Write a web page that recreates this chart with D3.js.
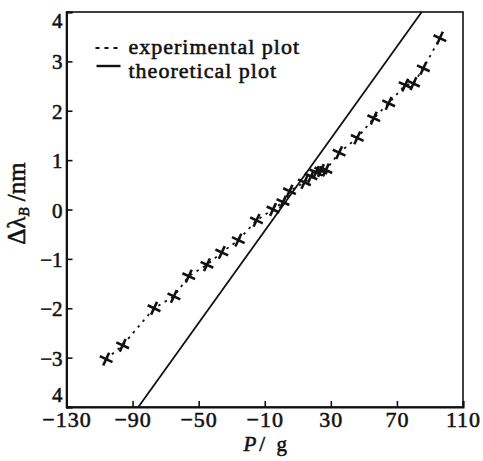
<!DOCTYPE html>
<html>
<head>
<meta charset="utf-8">
<script src="https://cdn.jsdelivr.net/npm/d3@7"></script>
<style>
  body { margin: 0; background: #fff; }
  text { font-family: "Liberation Serif", "DejaVu Serif", serif; fill: #111; stroke: #111; stroke-width: 0.55px; }
</style>
</head>
<body>
<div id="chart"></div>
<script>
// experimental points (P in g, delta lambda in nm)
var expP = [-106, -96, -77, -65, -56, -45, -36, -26, -15, -5, 1, 5, 14, 18, 21, 24, 27, 35, 46, 56, 65, 75, 80, 86, 96];
var expL = [-3.03, -2.75, -2.0, -1.76, -1.35, -1.12, -0.87, -0.62, -0.22, 0.0, 0.15, 0.37, 0.55, 0.67, 0.75, 0.79, 0.8, 1.15, 1.45, 1.85, 2.15, 2.52, 2.55, 2.86, 3.47];
// theoretical line end points
var theoP = [-86.5, 85];
var theoL = [-4, 4];
var xTicks = [-130, -90, -50, -10, 30, 70, 110];
var yTicks = [-4, -3, -2, -1, 0, 1, 2, 3, 4];
var legendLabels = ["experimental plot", "theoretical plot"];

(function (d3) {
    "use strict";

    var margin = { top: 12, right: 20, bottom: 54, left: 66.5 };
    var width = 483 - margin.left - margin.right;
    var height = 461 - margin.top - margin.bottom;

    var svg = d3.select("#chart").append("svg")
        .attr("width", 483)
        .attr("height", 461);

    var g = svg.append("g")
        .attr("transform", "translate(" + margin.left + "," + margin.top + ")");

    var xScale = d3.scaleLinear().domain([-130, 110]).range([0, width]);
    var yScale = d3.scaleLinear().domain([-4, 4]).range([height, 0]);

    function fmt(v) {
        return v < 0 ? "\u2212" + Math.abs(v) : "" + v;
    }

    // frame
    g.append("rect")
        .attr("width", width).attr("height", height)
        .attr("fill", "none").attr("stroke", "#111").attr("stroke-width", 1.6);

    // axes (ticks pointing inward)
    var xAxis = d3.axisBottom(xScale).tickValues(xTicks).tickSize(-6).tickPadding(4).tickFormat(fmt);
    var yAxis = d3.axisLeft(yScale).tickValues(yTicks).tickSize(-6).tickPadding(4).tickFormat(function (v) {
        return v === -4 ? "4" : fmt(v);
    });

    var gx = g.append("g").attr("transform", "translate(0," + height + ")").call(xAxis);
    var gy = g.append("g").call(yAxis);

    [gx, gy].forEach(function (ax) {
        ax.select(".domain").attr("stroke", "#111").attr("stroke-width", 2);
        ax.selectAll(".tick line").attr("stroke", "#111").attr("stroke-width", 1.6);
        ax.selectAll(".tick text")
            .style("font-family", "'Liberation Serif', serif")
            .style("font-size", "22px")
            .attr("fill", "#111");
    });
    gx.selectAll(".tick text").style("letter-spacing", "1px");
    // end labels of the y axis sit inside the frame
    gy.selectAll(".tick text").style("font-size", "21px").attr("dy", function (v) {
        if (v === -4) return "-0.25em";
        if (v === 4) return "0.72em";
        return "0.36em";
    });

    // axis titles
    svg.append("text")
        .attr("x", margin.left + width / 2 + 2)
        .attr("y", 451)
        .attr("text-anchor", "middle")
        .style("font-size", "21px")
        .style("letter-spacing", "3px")
        .html("<tspan font-style='italic'>P</tspan>/ g");

    svg.append("text")
        .attr("transform", "translate(25," + (margin.top + height / 2 - 6) + ")rotate(-90)")
        .attr("text-anchor", "middle")
        .style("font-size", "25px")
        .html("\u0394\u03bb<tspan font-size='15px' font-style='italic' dy='4'>B</tspan><tspan dy='-4'> /nm</tspan>");

    var theo = theoP.map(function (p, i) { return { p: p, l: theoL[i] }; });
    var exp = expP.map(function (p, i) { return { p: p, l: expL[i] }; });

    var line = d3.line()
        .x(function (d) { return xScale(d.p); })
        .y(function (d) { return yScale(d.l); });

    // theoretical line
    g.append("path")
        .datum(theo)
        .attr("d", line)
        .attr("fill", "none")
        .attr("stroke", "#111")
        .attr("stroke-width", 1.8);

    // experimental dashed line
    g.append("path")
        .datum(exp)
        .attr("d", line)
        .attr("fill", "none")
        .attr("stroke", "#111")
        .attr("stroke-width", 1.8)
        .attr("stroke-dasharray", "2.5,5");

    // crosses
    var s = 7;
    g.selectAll("path.pt")
        .data(exp)
        .enter().append("path")
        .attr("class", "pt")
        .attr("transform", function (d) {
            return "translate(" + xScale(d.p) + "," + yScale(d.l) + ")rotate(25)";
        })
        .attr("d", "M" + (-s) + ",0H" + s + "M0," + (-s) + "V" + s)
        .attr("stroke", "#111")
        .attr("stroke-width", 2.6)
        .attr("fill", "none");

    // legend
    var leg = g.append("g").attr("transform", "translate(29,36)");
    leg.append("line")
        .attr("x1", 0).attr("x2", 22).attr("y1", 0).attr("y2", 0)
        .attr("stroke", "#111").attr("stroke-width", 1.8)
        .attr("stroke-dasharray", "4,5");
    leg.append("line")
        .attr("x1", 1).attr("x2", 25).attr("y1", 18).attr("y2", 18)
        .attr("stroke", "#111").attr("stroke-width", 2.4);
    leg.selectAll("text")
        .data(legendLabels)
        .enter().append("text")
        .attr("x", 33)
        .attr("y", function (d, i) { return i * 24 + 6; })
        .style("font-size", "22px")
        .style("letter-spacing", "1px")
        .text(function (d) { return d; });
})(d3);
</script>
</body>
</html>
